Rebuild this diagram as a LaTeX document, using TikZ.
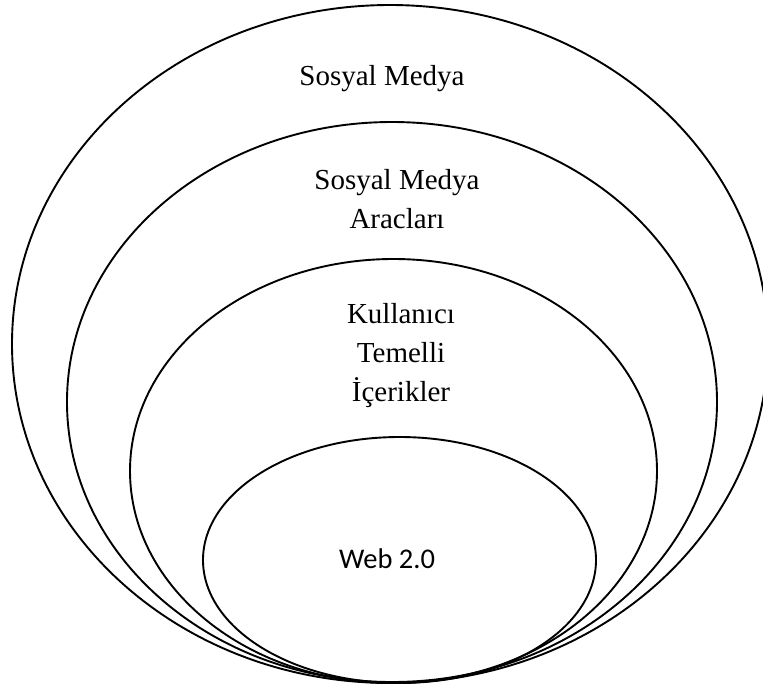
\documentclass[tikz,border=0pt]{standalone}
\usepackage{fontspec}
\setmainfont{Liberation Serif}
\newfontfamily\webfont{Carlito}

\begin{document}
\begin{tikzpicture}[x=1pt, y=-1pt]
    \useasboundingbox (0,0) rectangle (763,686);
    % Elipsler
    \draw[line width=1.9pt] (390,344) ellipse [x radius=378, y radius=339];
    \draw[line width=1.9pt] (392,402) ellipse [x radius=325, y radius=280];
    \draw[line width=1.9pt] (393.5,471) ellipse [x radius=263.5, y radius=212];
    \draw[line width=1.9pt] (399.5,560) ellipse [x radius=196.5, y radius=123];
    % Yazilar
    \node[anchor=base, font=\fontsize{29}{39}\selectfont] (medya) at (382,85) {Sosyal Medya};
    \node[anchor=base, align=center, font=\fontsize{29}{39}\selectfont] (araclar) at (397,228) {Sosyal Medya\\Aracları};
    \node[anchor=base, align=center, font=\fontsize{29}{39}\selectfont] (icerik) at (401,401) {Kullanıcı\\Temelli\\İçerikler};
    \node[anchor=base, font=\webfont\fontsize{28.5}{34}\selectfont] (web) at (387,568) {Web 2.0};
\end{tikzpicture}
\end{document}
